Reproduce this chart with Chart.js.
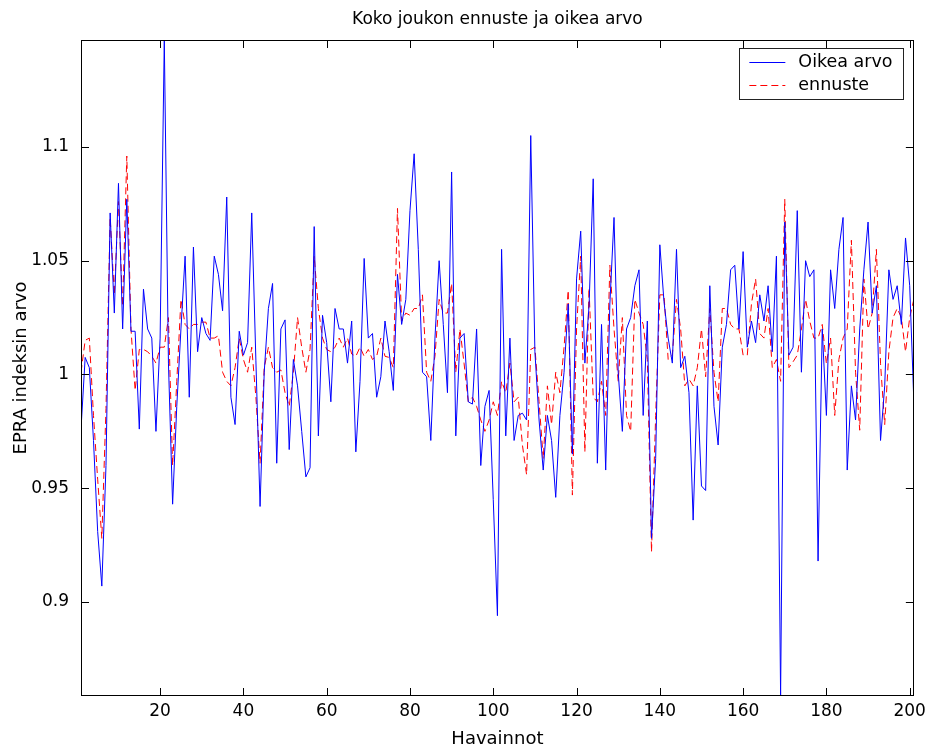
<!DOCTYPE html>
<html>
<head>
<meta charset="utf-8">
<script src="https://cdn.jsdelivr.net/npm/chart.js@4.4.1/dist/chart.umd.min.js"></script>
<style>
html,body{margin:0;padding:0;background:#fff;}
#wrap{width:931px;height:752px;}
</style>
</head>
<body>
<div id="wrap"><canvas id="c" width="931" height="752"></canvas></div>
<script>
// ---- data ----
const chartTitle = "Koko joukon ennuste ja oikea arvo";
const xTitle = "Havainnot";
const yTitle = "EPRA indeksin arvo";
const seriesNames = ["Oikea arvo", "ennuste"];

const oikeaArvo = [
  0.976,1.0075,1.003,0.971,0.931,0.907,0.96,1.071,1.027,1.084,
  1.02,1.077,1.019,1.019,0.976,1.0375,1.02,1.016,0.975,1.016,
  1.147,1.005,0.943,0.986,1.02,1.052,0.99,1.056,1.01,1.025,
  1.018,1.015,1.052,1.044,1.028,1.078,0.99,0.978,1.019,1.0085,
  1.014,1.071,1.006,0.942,1.001,1.029,1.04,0.961,1.02,1.024,
  0.967,1.0066,0.995,0.975,0.955,0.959,1.065,0.973,1.026,1.014,
  0.988,1.029,1.02,1.02,1.005,1.0235,0.966,0.997,1.051,1.016,
  1.018,0.99,0.999,1.0235,1.01,0.993,1.044,1.022,1.033,1.072,
  1.097,1.055,1.001,0.999,0.971,1.016,1.05,1.022,0.992,1.089,
  0.973,1.016,1.018,0.988,0.987,1.02,0.96,0.986,0.993,0.945,
  0.894,1.055,0.973,1.016,0.971,0.982,0.983,0.98,1.105,1.01,
  0.98,0.958,0.982,0.971,0.946,0.982,1.001,1.031,0.965,1.042,
  1.063,1.005,1.03,1.086,0.961,1.022,0.958,1.031,1.069,1.001,
  0.975,1.02,1.025,1.039,1.046,0.982,1.0235,0.928,0.963,1.057,
  1.032,1.016,1.005,1.055,1.003,1.008,0.992,0.936,0.995,0.951,
  0.949,1.039,0.986,0.969,1.012,1.022,1.046,1.048,1.02,1.054,
  1.012,1.0235,1.014,1.035,1.0235,1.039,1.01,1.052,0.8587,1.067,
  1.0085,1.012,1.072,1.001,1.05,1.043,1.046,0.918,1.02,0.982,
  1.046,1.029,1.055,1.069,0.958,0.995,0.98,1.02,1.046,1.067,
  1.027,1.039,0.971,0.995,1.046,1.033,1.039,1.022,1.06,1.039,
  0.988
];

const ennuste = [
  1.001,1.015,1.016,0.982,0.954,0.928,0.985,1.069,1.035,1.076,
  1.03,1.096,1.02,0.993,1.011,1.011,1.01,1.008,1.005,1.012,
  1.012,1.025,0.96,0.997,1.033,1.022,1.02,1.022,1.022,1.023,
  1.023,1.016,1.016,1.017,1.001,0.997,0.995,1.003,1.016,1.0066,
  1.001,1.012,0.99,0.961,1.003,1.012,1.003,1.001,1.002,0.992,
  0.986,1.001,1.025,1.012,1.001,1.011,1.052,1.029,1.016,1.011,
  1.01,1.012,1.016,1.012,1.016,1.009,1.008,1.012,1.008,1.011,
  1.0066,1.008,1.016,1.008,1.0075,1.003,1.073,1.0235,1.027,1.026,
  1.029,1.029,1.035,1.001,0.997,1.008,1.033,1.027,1.027,1.04,
  1.001,1.02,1.0047,0.988,0.99,0.986,0.98,0.975,0.98,0.988,
  0.982,0.997,0.992,1.005,0.988,0.99,0.969,0.956,1.011,1.012,
  0.988,0.963,0.995,0.978,1.001,0.992,1.012,1.037,0.947,1.02,
  1.052,0.966,1.038,0.99,0.988,0.997,0.982,1.048,1.02,0.997,
  1.025,0.982,0.975,1.033,1.027,1.022,1.0066,0.922,0.982,1.035,
  1.035,1.0066,1.0085,1.033,1.02,0.995,0.998,0.995,1.003,1.02,
  0.999,1.029,1.001,0.988,1.029,1.029,1.022,1.02,1.02,1.0085,
  1.0085,1.031,1.042,1.018,1.016,1.029,1.003,1.0066,0.997,1.077,
  1.003,1.0056,1.0085,1.02,1.033,1.0235,1.016,1.016,1.022,1.0047,
  1.016,0.982,1.0066,1.016,1.02,1.059,1.001,0.9755,1.042,1.02,
  1.027,1.055,1.0047,0.978,1.01,1.025,1.029,1.025,1.01,1.025,
  1.033
];

const xTickValues = [20, 40, 60, 80, 100, 120, 140, 160, 180, 200];
const yTickValues = [0.9, 0.95, 1, 1.05, 1.1];
const xRange = [1, 201];
const yRange = [0.8587, 1.147];

// observation numbers 1..N (index of each observation)
const havainnot = oikeaArvo.map((_, i) => i + 1);

// ---- styling ----
const FONT = "'DejaVu Sans', 'Liberation Sans', Arial, sans-serif";

const matlabAxes = {
  id: 'matlabAxes',
  afterDatasetsDraw(chart) {
    const {ctx, chartArea: a, scales: {x, y}} = chart;
    const L = 8;
    ctx.save();
    ctx.strokeStyle = '#000';
    ctx.lineWidth = 1;
    ctx.setLineDash([]);
    ctx.beginPath();
    x.ticks.forEach(t => {
      const px = Math.round(x.getPixelForValue(t.value)) + 0.5;
      ctx.moveTo(px, a.bottom); ctx.lineTo(px, a.bottom - L);
      ctx.moveTo(px, a.top); ctx.lineTo(px, a.top + L);
    });
    y.ticks.forEach(t => {
      const py = Math.round(y.getPixelForValue(t.value)) + 0.5;
      ctx.moveTo(a.left, py); ctx.lineTo(a.left + L, py);
      ctx.moveTo(a.right, py); ctx.lineTo(a.right - L, py);
    });
    ctx.stroke();
    ctx.strokeRect(Math.round(a.left) + 0.5, Math.round(a.top) + 0.5,
                   Math.round(a.right - a.left) - 1, Math.round(a.bottom - a.top) - 1);
    ctx.restore();
  }
};

const boxLegend = {
  id: 'boxLegend',
  afterDraw(chart) {
    const {ctx, chartArea: a} = chart;
    const bx = a.right - 174.5, by = a.top + 8, bw = 164, bh = 50.5;
    ctx.save();
    ctx.fillStyle = '#fff';
    ctx.fillRect(bx, by, bw, bh);
    ctx.strokeStyle = '#222';
    ctx.lineWidth = 1;
    ctx.setLineDash([]);
    ctx.strokeRect(Math.round(bx) + 0.5, Math.round(by) + 0.5, Math.round(bw), Math.round(bh));
    ctx.font = "17.5px " + FONT;
    ctx.textBaseline = 'middle';
    ctx.fillStyle = '#000';
    chart.data.datasets.forEach((ds, i) => {
      const cy = Math.round(by + 14 + i * 22.5) + 0.5;
      ctx.strokeStyle = ds.borderColor;
      ctx.lineWidth = ds.borderWidth;
      ctx.setLineDash(ds.borderDash || []);
      ctx.beginPath();
      ctx.moveTo(bx + 10, cy);
      ctx.lineTo(bx + 46, cy);
      ctx.stroke();
      ctx.setLineDash([]);
      ctx.fillText(ds.label, bx + 59, cy);
    });
    ctx.restore();
  }
};

const toXY = (ys) => ys.map((v, i) => ({x: havainnot[i], y: v}));

new Chart(document.getElementById('c'), {
  type: 'line',
  data: {
    datasets: [
      {
        label: seriesNames[0],
        data: toXY(oikeaArvo),
        borderColor: '#0000ff',
        borderWidth: 1,
        pointRadius: 0,
        tension: 0,
        fill: false
      },
      {
        label: seriesNames[1],
        data: toXY(ennuste),
        borderColor: '#ff0000',
        borderWidth: 1,
        borderDash: [7, 4],
        pointRadius: 0,
        tension: 0,
        fill: false
      }
    ]
  },
  options: {
    responsive: false,
    animation: false,
    devicePixelRatio: 1,
    layout: {padding: {left: 0, right: 14, top: 0, bottom: 0}},
    plugins: {
      legend: {display: false},
      tooltip: {enabled: false},
      title: {
        display: true,
        fullSize: false,
        text: chartTitle,
        color: '#000',
        font: {family: FONT, size: 17, weight: 'normal'},
        padding: {top: 9.3, bottom: 10.3}
      }
    },
    scales: {
      x: {
        type: 'linear',
        position: 'bottom',
        min: xRange[0],
        max: xRange[1],
        afterBuildTicks: s => { s.ticks = xTickValues.map(v => ({value: v})); },
        afterFit: s => { s.height = 56; },
        grid: {display: false, drawTicks: false},
        border: {display: false},
        ticks: {
          color: '#000',
          font: {family: FONT, size: 17},
          padding: 5,
          maxRotation: 0,
          autoSkip: false,
          callback: v => String(v)
        },
        title: {
          display: true,
          text: xTitle,
          color: '#000',
          font: {family: FONT, size: 18},
          padding: {top: 0, bottom: 2.3}
        }
      },
      y: {
        type: 'linear',
        position: 'left',
        min: yRange[0],
        max: yRange[1],
        afterBuildTicks: s => { s.ticks = yTickValues.map(v => ({value: v})); },
        afterFit: s => { s.width = 81; },
        grid: {display: false, drawTicks: false},
        border: {display: false},
        ticks: {
          color: '#000',
          font: {family: FONT, size: 17},
          padding: 12,
          autoSkip: false,
          callback: v => String(v)
        },
        title: {
          display: true,
          text: yTitle,
          color: '#000',
          font: {family: FONT, size: 18},
          padding: {top: 10.2, bottom: 0}
        }
      }
    }
  },
  plugins: [matlabAxes, boxLegend]
});
</script>
</body>
</html>
